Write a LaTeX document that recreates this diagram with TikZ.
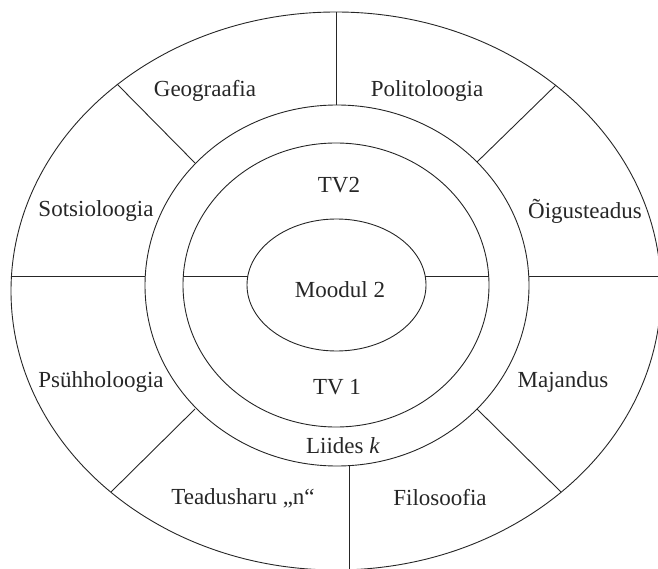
\documentclass[tikz,border=0pt]{standalone}
\usepackage{fontspec}
\setmainfont{Liberation Serif}
\begin{document}
\begin{tikzpicture}[x=1pt,y=-1pt,
  ln/.style={line width=0.9pt,black!85},
  lbl/.style={anchor=base,inner sep=0pt,font=\fontsize{23}{27}\selectfont,text=black!85}]
\useasboundingbox (0,0) rectangle (658,569);
% outer ellipse (clipped by the picture frame)
\begin{scope}
  \clip (0,0) rectangle (658,569);
  \draw[ln] (336,291) ellipse [x radius=325, y radius=279];
\end{scope}
% inner ellipses
\draw[ln] (337,285.5) ellipse [x radius=192, y radius=180.5];
\draw[ln] (336,285) ellipse [x radius=153, y radius=142];
\draw[ln] (336.5,285) ellipse [x radius=89.5, y radius=66];
% end points of the dividing lines
\coordinate (oT) at (336,12);
\coordinate (lT) at (336,105);
\coordinate (lB) at (349,465.6);
\coordinate (oB) at (349,569);
\coordinate (oL) at (11.5,276);
\coordinate (lL) at (145.3,276);
\coordinate (lR) at (528.7,276);
\coordinate (oR) at (658,276);
\coordinate (tL) at (183.3,276);
\coordinate (mL) at (247.8,276);
\coordinate (mR) at (425.2,276);
\coordinate (tR) at (488.7,276);
\coordinate (oUL) at (117,84);
\coordinate (lUL) at (195,163);
\coordinate (oUR) at (556,85);
\coordinate (lUR) at (477,162);
\coordinate (oLL) at (111,492);
\coordinate (lLL) at (195,409);
\coordinate (oLR) at (561,492);
\coordinate (lLR) at (477,409);
\draw[ln] (oT) -- (lT);
\draw[ln] (lB) -- (oB);
\draw[ln] (oL) -- (lL);
\draw[ln] (lR) -- (oR);
\draw[ln] (tL) -- (mL);
\draw[ln] (mR) -- (tR);
\draw[ln] (oUL) -- (lUL);
\draw[ln] (oUR) -- (lUR);
\draw[ln] (oLL) -- (lLL);
\draw[ln] (oLR) -- (lLR);
% labels
\node[lbl] (geo) at (205,97) {Geograafia};
\node[lbl] (pol) at (427,97) {Politoloogia};
\node[lbl] (sot) at (96,217) {Sotsioloogia};
\node[lbl] (oig) at (585,219) {Õigusteadus};
\node[lbl] (psy) at (101,387) {Psühholoogia};
\node[lbl] (maj) at (563,387) {Majandus};
\node[lbl] (tea) at (243,504) {Teadusharu „n“};
\node[lbl] (fil) at (440,505) {Filosoofia};
\node[lbl] (tv2) at (339,193) {TV2};
\node[lbl] (mod) at (340,297) {Moodul 2};
\node[lbl] (tv1) at (337,394) {TV 1};
\node[lbl] (lii) at (343,453) {Liides \textit{k}};
\end{tikzpicture}
\end{document}
